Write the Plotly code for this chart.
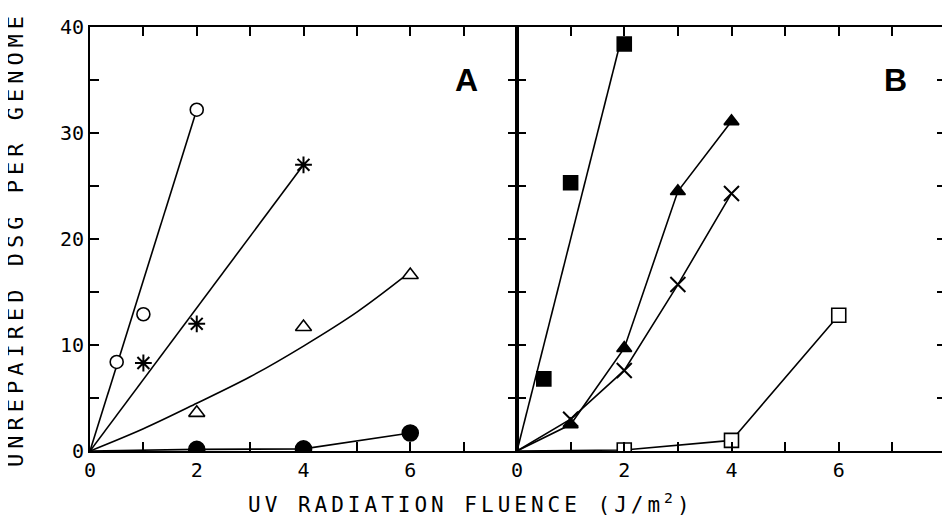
import plotly.graph_objects as go

# ---------------- data ----------------
# Panel A
a_open_circle_x = [0.5, 1, 2]
a_open_circle_y = [8.4, 12.9, 32.2]
a_open_circle_fit_x = [0, 2]
a_open_circle_fit_y = [0, 32.2]

a_asterisk_x = [1, 2, 4]
a_asterisk_y = [8.3, 12.0, 27.0]
a_asterisk_fit_x = [0, 4]
a_asterisk_fit_y = [0, 27.0]

a_open_tri_x = [2, 4, 6]
a_open_tri_y = [3.6, 11.7, 16.6]
a_open_tri_fit_x = [0, 1, 2, 3, 4, 5, 5.85]
a_open_tri_fit_y = [0, 2.1, 4.5, 7.0, 9.9, 13.1, 16.3]

a_filled_circle_x = [2, 4, 6]
a_filled_circle_y = [0.15, 0.2, 1.7]

# Panel B
b_filled_square_x = [0.5, 1, 2]
b_filled_square_y = [6.8, 25.3, 38.4]
b_filled_square_fit_x = [0, 1.92]
b_filled_square_fit_y = [0, 38.4]

b_filled_tri_x = [1, 2, 3, 4]
b_filled_tri_y = [2.5, 9.7, 24.5, 31.1]

b_cross_x = [1, 2, 3, 4]
b_cross_y = [3.0, 7.6, 15.7, 24.3]

b_open_square_x = [2, 4, 6]
b_open_square_y = [0.1, 1.0, 12.8]

x_ticks_a = [0, 2, 4, 6]
x_ticks_b = [0, 2, 4, 6, 8]
y_ticks = [0, 10, 20, 30, 40]

# ---------------- figure ----------------
BLACK = "#000000"
LW = 1.6
fig = go.Figure()


def line(x, y, xa, ya, shape="linear"):
    fig.add_trace(go.Scatter(x=x, y=y, mode="lines", xaxis=xa, yaxis=ya,
                             line=dict(color=BLACK, width=LW, shape=shape),
                             hoverinfo="skip", showlegend=False))


def pts(x, y, xa, ya, symbol, size, fill, lw=1.6):
    fig.add_trace(go.Scatter(x=x, y=y, mode="markers", xaxis=xa, yaxis=ya,
                             marker=dict(symbol=symbol, size=size, color=fill,
                                         line=dict(color=BLACK, width=lw)),
                             showlegend=False))


# Lines on the framed axes
line(a_open_circle_fit_x, a_open_circle_fit_y, "x", "y")
line(a_asterisk_fit_x, a_asterisk_fit_y, "x", "y")
line(a_open_tri_fit_x, a_open_tri_fit_y, "x", "y", shape="spline")
line([0] + a_filled_circle_x, [0] + a_filled_circle_y, "x", "y")
line(b_filled_square_fit_x, b_filled_square_fit_y, "x2", "y2")
line([0] + b_filled_tri_x, [0] + b_filled_tri_y, "x2", "y2")
line([0] + b_cross_x, [0] + b_cross_y, "x2", "y2")
line([0] + b_open_square_x, [0] + b_open_square_y, "x2", "y2")

# Markers on invisible overlay axes (same ranges)
pts(a_open_circle_x, a_open_circle_y, "x3", "y3", "circle", 13, "white")
pts(a_asterisk_x, a_asterisk_y, "x3", "y3", "asterisk", 14, BLACK, 2)
pts(a_open_tri_x, a_open_tri_y, "x3", "y3", "triangle-up", 14, "white")
pts(a_filled_circle_x, a_filled_circle_y, "x3", "y3", "circle", 16, BLACK)
pts(b_filled_square_x, b_filled_square_y, "x4", "y4", "square", 14, BLACK)
pts(b_filled_tri_x, b_filled_tri_y, "x4", "y4", "triangle-up", 13, BLACK)
pts(b_cross_x, b_cross_y, "x4", "y4", "x-thin", 15, BLACK, 2)
pts(b_open_square_x, b_open_square_y, "x4", "y4", "square", 14, "white")

TICKFONT = dict(family="DejaVu Sans Mono", size=20, color=BLACK)
SPLIT = 427 / 856

TICK = dict(ticks="inside", ticklen=9, tickwidth=1.8, tickcolor=BLACK)
MINOR_X = dict(tickmode="linear", tick0=0, dtick=1, showgrid=False,
               ticks="inside", ticklen=9, tickwidth=1.8, tickcolor=BLACK)
MINOR_Y = dict(tickmode="linear", tick0=0, dtick=5, showgrid=False,
               ticks="inside", ticklen=9, tickwidth=1.8, tickcolor=BLACK)

common_x = dict(range=[0, 8], showgrid=False, zeroline=False, showline=True,
                linecolor=BLACK, linewidth=2, mirror="ticks",
                tickmode="array", tickfont=TICKFONT, automargin=False,
                minor=MINOR_X, **TICK)

fig.update_layout(
    template="none",
    width=942, height=516,
    margin=dict(l=82, r=4, t=19, b=73),
    paper_bgcolor="white", plot_bgcolor="white",
    showlegend=False,
    xaxis=dict(domain=[0, SPLIT], tickvals=x_ticks_a, anchor="y", **common_x),
    xaxis2=dict(domain=[SPLIT, 1], tickvals=x_ticks_b, anchor="y2", **common_x),
    yaxis=dict(range=[0, 40], tickmode="array", tickvals=y_ticks, showgrid=False,
               zeroline=False, showline=True, linecolor=BLACK, linewidth=2,
               mirror="ticks", tickfont=TICKFONT, automargin=False, anchor="x",
               minor=MINOR_Y, **TICK),
    yaxis2=dict(range=[0, 40], tickmode="array", tickvals=y_ticks, showgrid=False,
                zeroline=False, showline=True, linecolor=BLACK, linewidth=2,
                mirror="ticks", side="right", showticklabels=False, anchor="x2",
                automargin=False, minor=MINOR_Y, **TICK),
    xaxis3=dict(overlaying="x", range=[0, 8], visible=False, anchor="y3"),
    yaxis3=dict(overlaying="y", range=[0, 40], visible=False, anchor="x3"),
    xaxis4=dict(overlaying="x2", range=[0, 8], visible=False, anchor="y4"),
    yaxis4=dict(overlaying="y2", range=[0, 40], visible=False, anchor="x4"),
)

fig.add_annotation(text="<b>A</b>", x=7.06, y=35, xref="x", yref="y",
                   showarrow=False, font=dict(family="Liberation Sans", size=32, color=BLACK))
fig.add_annotation(text="<b>B</b>", x=7.05, y=35, xref="x2", yref="y2",
                   showarrow=False, font=dict(family="Liberation Sans", size=32, color=BLACK))
fig.add_annotation(
    text='<span style="letter-spacing:5px">UNREPAIRED DSG PER GENOME</span>',
    x=-0.0876, y=0.5, xref="paper", yref="paper", textangle=-90,
    xanchor="center", yanchor="middle", showarrow=False,
    font=dict(family="DejaVu Sans Mono", size=22, color=BLACK))
fig.add_annotation(
    text='<span style="letter-spacing:4px">UV RADIATION FLUENCE (J/m<sup>2</sup>)</span>',
    x=0.445, y=-0.123, xref="paper", yref="paper",
    xanchor="center", yanchor="middle", showarrow=False,
    font=dict(family="DejaVu Sans Mono", size=21, color=BLACK))

fig.write_html("out.html")
